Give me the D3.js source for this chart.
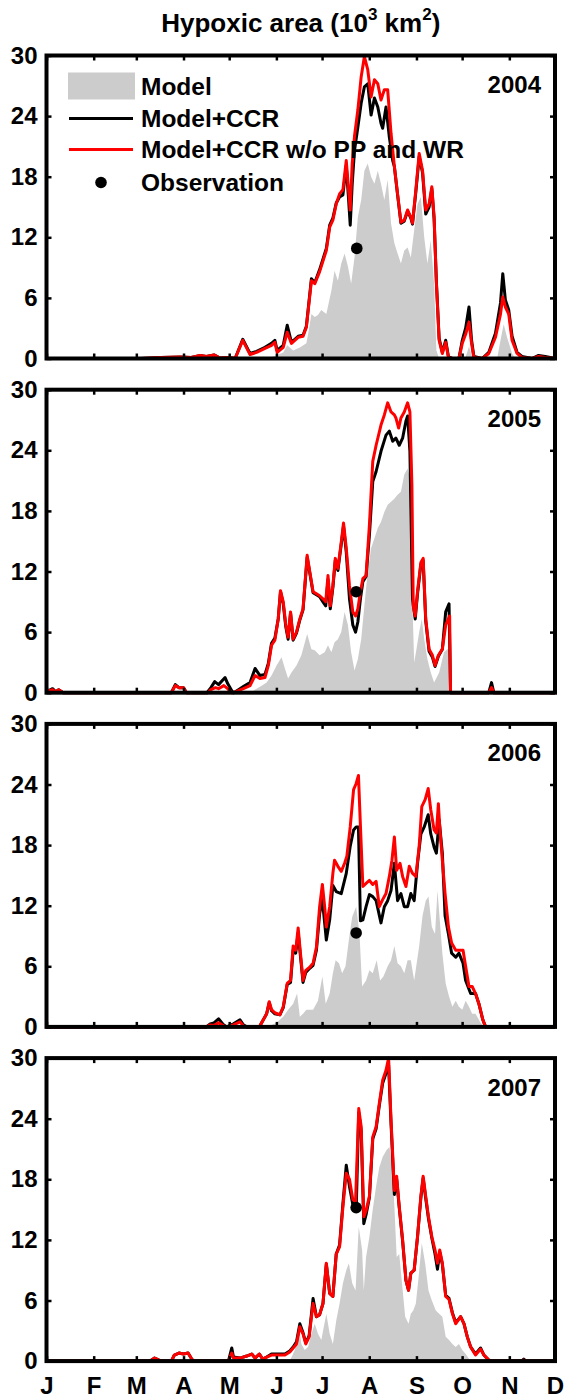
<!DOCTYPE html>
<html>
<head>
<meta charset="utf-8">
<script src="https://cdn.jsdelivr.net/npm/d3@7"></script>
<style>
  body { margin: 0; background: #fff; }
  text { font-family: "Liberation Sans", Arial, sans-serif; font-weight: bold; fill: #000; }
</style>
</head>
<body>
<div id="chart"></div>
<script>
// ---- data: [day of year, hypoxic area 10^3 km2] ----
var years = ["2004", "2005", "2006", "2007"];
var monthStarts = [0, 31, 59, 90, 120, 151, 181, 212, 243, 273, 304, 334];
var monthLabels = ["J", "F", "M", "A", "M", "J", "J", "A", "S", "O", "N", "D"];
var yTicks = [0, 6, 12, 18, 24, 30];
var legendLabels = ["Model", "Model+CCR", "Model+CCR w/o PP and WR", "Observation"];

var model2004 = [[145,0],[148.9,0.2],[155.5,0.6],[158.1,1.3],[162,0.8],[166.4,1.1],[170.7,1.5],[172.5,3.0],[174,4.4],[176.2,4.1],[178.3,4.3],[180.5,4.8],[183.8,4.4],[187.1,6.7],[189.2,8.7],[191.4,7.7],[193.6,9.4],[195.8,10.4],[198,9.1],[200.1,7.4],[202.3,10.0],[204.5,14.0],[206.7,15.7],[208.8,18.6],[211,19.3],[213.2,18.0],[215.4,17.3],[217.6,18.6],[219.7,17.3],[221.9,15.7],[224.1,17.7],[226.3,13.4],[228.5,11.4],[230.6,10.4],[232.8,9.4],[235,10.7],[237.2,11.0],[239.3,10.0],[241.5,12.7],[243.7,15.3],[245.9,16.0],[248.1,12.0],[250.2,9.4],[252.4,11.7],[254.6,7.4],[256.1,0.8],[257.9,0],[275,0],[277.5,1.2],[280,0],[296,0],[298.2,1.8],[300.3,3.4],[302.5,2.1],[305.8,0.5],[308,0]];
var ccr2004 = [[0,0],[62,0],[75,0.1],[88,0.15],[95,0.1],[101,0.3],[105,0.2],[110,0.35],[114,0.05],[120,0.1],[123.9,0],[128.9,1.9],[133.7,0.5],[138,0.7],[143.5,1.1],[147.8,1.5],[150,1.8],[151.5,0.8],[155.5,1.3],[158.1,3.3],[160.9,1.6],[165.3,2.2],[168.5,2.3],[170.7,3.2],[174,7.9],[176.2,7.5],[179.4,8.8],[183.8,10.9],[186,13.2],[188.1,13.9],[190.3,15.4],[192.5,16.0],[194.7,16.2],[196.9,19.1],[198.4,15.8],[199.5,13.2],[200.8,17.3],[202.3,20.6],[204.5,22.9],[206.7,25.3],[208.8,26.9],[211,27.2],[213.2,24.1],[215.4,25.8],[217.6,24.9],[219.7,23.3],[220.8,22.8],[223,24.9],[225.2,21.9],[227.4,19.6],[228.5,19.0],[230.6,16.2],[232.8,13.4],[235,13.6],[237.2,14.6],[239.3,13.9],[240.4,13.3],[242.6,16.5],[244.8,20.0],[247,18.4],[249.1,14.3],[251.3,15.0],[253.1,16.8],[254.6,13.8],[256.1,7.6],[257.9,2.0],[260,0.6],[262.2,1.8],[264,0.2],[266.6,0],[270.9,0],[273.1,1.8],[275.3,3.0],[277.5,5.1],[279.2,1.8],[280.7,0.2],[286.2,0],[290.5,0.6],[294.9,2.5],[298.2,5.5],[299.7,8.4],[301.4,5.8],[303.6,4.8],[305.8,2.2],[309.1,0.6],[312.3,0.2],[318.9,0],[323.2,0.3],[327.6,0.2],[334,0]];
var ccrNoPpWr2004 = [[0,0],[62,0],[75,0.1],[88,0.15],[95,0.1],[101,0.3],[105,0.2],[110,0.35],[114,0.05],[120,0.1],[123.9,0],[128.9,1.8],[133.7,0.4],[138,0.6],[143.5,1.0],[147.8,1.3],[150,1.6],[151.5,0.6],[155.5,1.1],[158.1,2.6],[160.9,1.5],[165.3,2.1],[168.5,2.2],[170.7,3.1],[174,7.7],[176.2,7.4],[179.4,8.6],[183.8,10.7],[186,13.0],[188.1,13.7],[190.3,15.3],[192.5,16.3],[194.7,16.7],[196.9,19.6],[198.4,16.7],[199.5,14.7],[200.8,19.3],[202.3,22.0],[204.5,24.6],[206.7,27.9],[208.8,29.9],[211,28.6],[213.2,25.9],[215.4,27.6],[217.6,27.2],[219.7,25.6],[221.9,26.6],[224.1,26.6],[226.3,22.3],[228.5,19.0],[230.6,16.3],[232.8,13.5],[235,13.7],[237.2,14.7],[239.3,14.0],[240.4,13.4],[242.6,16.7],[244.8,20.3],[247,18.6],[249.1,14.7],[251.3,15.3],[253.1,17.0],[254.6,14.0],[256.1,7.4],[257.9,1.8],[260,0.5],[262.2,1.6],[264,0.1],[266.6,0],[270.9,0],[273.1,1.5],[275.3,2.4],[277.5,3.6],[279.2,1.5],[280.7,0.1],[286.2,0],[290.5,0.5],[294.9,2.1],[298.2,4.4],[299.7,6.1],[301.4,5.1],[303.6,4.4],[305.8,1.8],[309.1,0.5],[312.3,0.1],[318.9,0],[323.2,0.2],[327.6,0.1],[334,0]];
var obs2004 = [[203.8, 10.9]];

var model2005 = [[133,0],[135.9,0.2],[141.3,0.7],[144.6,1.0],[147.8,1.7],[151.1,2.7],[154.4,3.5],[156.6,2.4],[158.7,1.4],[160.9,2.0],[164.2,2.7],[167.4,3.7],[171.2,5.8],[174,4.3],[176.2,4.2],[179.4,3.7],[182.7,4.0],[184.9,4.7],[187.1,4.0],[189.2,5.0],[191.4,5.3],[193.6,6.0],[195.8,8.0],[198,6.7],[200.1,4.0],[202.3,2.2],[204.5,3.3],[206.7,5.3],[208.8,8.6],[211,12.0],[213.2,14.3],[215.4,15.3],[217.6,16.3],[219.7,16.9],[221.9,17.9],[224.1,18.6],[226.3,18.9],[228.5,19.2],[230.6,19.6],[232.8,19.9],[235,21.6],[237.2,22.2],[238.7,21.2],[240,10.6],[241.5,3.0],[243,4.3],[244.8,6.0],[246.5,7.3],[248.1,5.3],[250.2,3.3],[252.4,2.0],[254.6,1.0],[257.9,2.0],[261.1,4.0],[263.3,4.3],[264.8,4.3],[265.2,0]];
var ccr2005 = [[0,0],[1.5,0.2],[4,0.4],[6,0.1],[8,0.3],[11,0],[82,0],[84.6,0.8],[87,0.5],[90,0.5],[92,0],[105.4,0],[108,0.5],[110.5,1.1],[113,0.8],[117.3,1.5],[119,0.9],[121.7,0.2],[123,0],[126.1,0.3],[129.3,0.6],[133.7,1.0],[137,2.4],[140.2,1.7],[143.5,1.8],[145.7,2.9],[147.8,4.9],[150,5.4],[152.2,7.3],[153.7,10.0],[155.5,8.8],[157.2,6.5],[158.7,5.3],[160.3,7.9],[162,5.2],[164.2,5.9],[166.4,7.2],[168.5,8.2],[171.2,13.4],[172.9,11.9],[175.1,9.9],[177.3,9.7],[179.4,9.5],[181.6,9.0],[183.4,8.6],[184.9,11.2],[186.4,8.3],[188.1,10.4],[189.7,13.1],[191.4,12.1],[193.6,14.7],[195.1,16.5],[196.9,13.9],[199,9.3],[201.2,6.7],[203,6.0],[204.5,7.0],[206.2,9.3],[207.8,11.0],[209.9,11.5],[212.1,15.6],[214.3,20.9],[216.5,21.9],[219.7,23.9],[223,25.5],[225.2,25.9],[227.4,24.9],[229.5,25.2],[231.7,24.5],[233.9,25.2],[236.1,26.9],[237.2,27.4],[238.7,23.9],[240.4,9.3],[242.2,7.3],[243.7,9.8],[245.9,12.7],[247.4,13.1],[249.1,7.1],[251.3,4.1],[253.5,3.5],[255.2,2.6],[257.4,3.6],[260,4.3],[262.2,8.0],[264.4,8.8],[265.4,0],[290.5,0],[292.3,1.0],[293.8,0],[334,0]];
var ccrNoPpWr2005 = [[0,0],[1.5,0.2],[4,0.3],[6,0.1],[8,0.3],[11,0],[82,0],[84.6,0.7],[87,0.5],[90,0.5],[92,0],[106,0],[108,0.3],[111,0.5],[113,0.4],[116.5,0.7],[119,0.4],[121.5,0],[123,0],[126.1,0.2],[129.3,0.4],[133.7,0.7],[137,1.7],[140.2,1.4],[143.5,1.5],[145.7,2.7],[147.8,4.7],[150,5.2],[152.2,7.3],[153.7,10.1],[155.5,9.0],[157.2,6.7],[158.7,5.5],[160.3,8.0],[162,5.3],[164.2,6.0],[166.4,7.3],[168.5,8.3],[171.2,13.6],[172.9,12.0],[175.1,10.0],[177.3,9.8],[179.4,9.6],[181.6,9.3],[183.4,9.0],[184.9,11.6],[186.4,8.6],[188.1,10.6],[189.7,13.3],[191.4,12.3],[193.6,14.9],[195.1,16.8],[196.9,14.3],[199,10.6],[201.2,8.0],[203,7.6],[204.5,8.3],[206.2,10.0],[207.8,11.3],[209.9,11.6],[212.1,16.6],[214.3,22.9],[216.5,24.5],[219.7,26.5],[221.9,27.5],[224.1,28.7],[226.3,27.8],[228.5,27.5],[229.5,27.2],[231.3,26.2],[232.8,27.2],[235,27.8],[237.2,28.7],[238.7,27.8],[240,20.6],[240.9,8.6],[242.2,7.6],[243.7,10.0],[245.9,12.9],[247.4,13.3],[249.1,7.3],[251.3,4.3],[253.5,3.7],[255.2,2.7],[257.4,3.7],[260,4.3],[262.2,6.7],[264.8,7.6],[265.4,0],[290.5,0],[292.3,0.5],[293.8,0],[334,0]];
var obs2005 = [[203.4, 10.0]];

var model2006 = [[144.6,0],[151.1,0.4],[155.5,1.0],[158.7,1.7],[162,2.3],[164.6,3.3],[166.4,1.0],[168.5,1.3],[170.7,1.7],[175.1,1.7],[178.3,2.6],[181.2,5.0],[183.4,2.3],[186,3.3],[188.1,5.3],[189.9,6.6],[192.1,6.3],[194.2,5.3],[196.4,6.0],[198.6,8.6],[200.8,10.9],[203.4,11.9],[205.6,9.2],[207.3,4.0],[209.9,4.6],[212.1,5.6],[214.3,5.3],[216.9,6.6],[219.1,4.6],[221.3,5.0],[224.1,6.0],[226.3,6.6],[228.5,8.0],[230.6,6.3],[232.8,6.0],[235,5.3],[237.2,6.6],[239.3,6.6],[241.5,4.6],[244.8,8.0],[247,11.0],[249.1,12.5],[250.9,12.9],[253.1,9.9],[255.2,9.2],[256.8,13.5],[258.3,10.6],[260,7.3],[262.2,4.3],[264.4,3.0],[266.6,2.0],[268.8,2.6],[270.9,2.0],[273.1,1.7],[275.3,2.6],[277.5,2.0],[279.6,1.3],[281.8,1.3],[285.1,0.4],[287.3,0]];
var ccr2006 = [[0,0],[105,0],[107.5,0.3],[110,0.4],[113,0.8],[116.3,0.2],[118.4,0],[122.8,0.3],[127.1,0.7],[129.3,0.2],[131.5,0],[139.8,0],[141.3,0.4],[144.6,1.3],[146.3,2.4],[147.8,1.6],[150,1.3],[153.3,1.2],[155.5,1.9],[158.1,4.2],[160.3,4.4],[162,7.6],[163.7,7.3],[165.3,9.3],[166.8,7.0],[168.5,4.4],[170.3,5.4],[172.9,5.8],[175.1,6.1],[177.3,7.6],[179.4,11.2],[181.2,12.6],[182.7,10.3],[183.8,8.6],[186,10.6],[188.1,14.0],[190.3,13.4],[193.6,13.2],[196.9,15.2],[199.5,17.9],[201.7,19.5],[203.4,19.8],[204.9,19.8],[206.2,10.5],[207.8,10.6],[209.9,11.9],[212.1,13.1],[214.3,12.9],[216.5,12.5],[219.7,10.3],[221.9,11.9],[224.1,12.5],[226.3,13.5],[228.5,16.2],[230.6,12.5],[232.8,13.2],[235,11.9],[237.2,11.9],[239.3,13.2],[241.5,12.5],[243.7,16.2],[245.9,19.1],[248.1,19.8],[250.7,21.0],[252.4,19.1],[254.6,17.8],[256.1,17.2],[257.9,20.5],[260,17.2],[261.8,11.0],[264,9.2],[266.1,7.3],[268.8,6.9],[270.9,7.3],[273.6,6.3],[275.3,4.6],[278.6,3.3],[281.8,3.3],[284,2.3],[286.6,0.7],[288.4,0],[334,0]];
var ccrNoPpWr2006 = [[0,0],[105,0],[107.5,0.2],[110,0.15],[113,0.4],[116.3,0.1],[118.4,0],[122.8,0.2],[127.1,0.5],[129.3,0.1],[131.5,0],[139.8,0],[141.3,0.4],[144.6,1.3],[146.3,2.5],[147.8,1.7],[150,1.4],[153.3,1.2],[155.5,2.0],[158.1,4.3],[160.3,4.6],[162,8.0],[163.7,7.6],[165.3,9.8],[166.8,7.3],[168.5,4.6],[170.3,5.6],[172.9,5.9],[175.1,6.3],[177.3,7.9],[179.4,11.9],[181.2,14.1],[182.7,11.9],[183.8,9.9],[186,11.9],[188.1,15.2],[189.2,16.5],[191.4,15.9],[193.6,15.4],[195.8,16.2],[197.3,16.9],[199.5,19.8],[201.7,23.5],[203.4,24.1],[204.9,24.9],[206.2,19.9],[207.8,13.9],[209.9,14.2],[212.1,14.5],[214.3,14.1],[216.5,14.4],[218.6,11.9],[220.8,12.6],[223,13.2],[225.2,14.9],[226.9,16.5],[228.5,18.8],[230,15.5],[232.2,16.2],[233.9,14.9],[236.1,13.9],[238.3,15.9],[240.4,15.2],[242.6,14.9],[244.8,17.9],[246.5,21.8],[248.7,22.5],[250.7,23.6],[252.4,21.5],[254.6,19.5],[256.1,19.2],[257.4,22.1],[258.3,19.8],[260,16.5],[261.8,13.2],[264,9.9],[266.1,8.3],[268.8,7.6],[270.9,7.6],[273.6,7.6],[275.3,6.0],[277.5,4.0],[279.6,4.0],[281.8,3.3],[284,2.3],[286.6,0.7],[288.4,0],[334,0]];
var obs2006 = [[203.4, 9.3]];

var model2007 = [[159.8,0],[163.1,1.1],[165.9,3.4],[167.4,1.7],[169.6,1.1],[171.8,1.4],[174,2.7],[176.2,3.7],[178.3,2.7],[180.5,2.1],[183.8,4.7],[186,2.7],[188.1,1.7],[190.3,4.0],[192.5,5.7],[194.7,7.7],[196.9,9.0],[198.6,9.7],[200.8,7.7],[203,7.0],[205.1,13.3],[207.3,11.0],[208.4,7.0],[209.9,10.3],[212.1,12.3],[214.3,15.0],[216.5,17.3],[218.6,19.2],[220.8,20.2],[223.4,20.9],[225.2,21.2],[226.9,19.9],[228.5,15.3],[230,10.3],[231.7,10.6],[233.5,7.7],[235.6,4.4],[237.8,3.7],[239.3,4.7],[240.9,5.0],[242.6,5.7],[244.4,8.3],[246.5,11.7],[248.7,9.7],[250.9,7.0],[253.1,6.0],[255.7,5.0],[257.9,4.7],[260,4.4],[262.2,2.4],[264.4,2.1],[266.6,1.7],[268.8,1.4],[270.9,1.7],[273.1,1.1],[275.3,0.7],[278.6,0]];
var ccr2007 = [[0,0],[68,0],[71,0.3],[74,0.1],[76,0],[82,0],[84,0.6],[87,0.8],[90,0.7],[93,0.8],[95,0.3],[96.5,0],[119.5,0],[121.7,1.3],[122.8,0.4],[127.1,0.3],[131.5,0.5],[134.8,0.7],[137,0.3],[139.8,0.7],[142,0.2],[144.6,0.4],[147.8,0.7],[151.1,0.7],[156.6,0.7],[159.8,1.0],[162,1.4],[164.2,1.9],[166.4,3.7],[168.5,2.8],[170.3,1.8],[172.5,2.5],[175.1,6.2],[177.3,4.4],[179.4,4.6],[181.6,5.7],[183.8,9.6],[186,6.7],[188.1,6.4],[190.3,10.6],[192.5,11.5],[194.7,15.6],[196.9,19.4],[199,17.3],[201.2,15.5],[203.4,14.9],[205.1,24.6],[206.7,22.8],[208.4,13.6],[209.9,14.5],[212.1,16.2],[214.3,22.0],[216.5,23.0],[218.6,25.3],[220.8,27.5],[223,28.5],[224.7,29.3],[226.3,23.5],[228.5,16.5],[230,18.0],[231.7,15.2],[233.9,11.9],[236.1,8.0],[237.8,7.0],[239.3,8.7],[241.5,9.0],[243.7,12.3],[245.9,16.2],[247.4,18.1],[249.1,16.1],[250.9,14.1],[253.1,12.2],[255.2,10.6],[256.8,9.1],[258.3,10.8],[260,9.6],[262.2,6.5],[264.4,6.2],[266.6,4.8],[268.8,3.8],[272,4.4],[274.2,3.7],[276.4,2.4],[278.6,1.4],[281.8,0.7],[285.1,1.3],[287.3,0.6],[290.5,0.1],[292,0],[312,0],[313.5,0.2],[315,0],[334,0]];
var ccrNoPpWr2007 = [[0,0],[68,0],[71,0.3],[74,0.1],[76,0],[82,0],[84,0.6],[87,0.8],[90,0.7],[93,0.8],[95,0.3],[96.5,0],[119.5,0],[121.7,0.8],[122.8,0.3],[127.1,0.3],[131.5,0.5],[134.8,0.7],[137,0.3],[139.8,0.7],[142,0.2],[144.6,0.4],[147.8,0.6],[151.1,0.6],[156.6,0.6],[159.8,0.9],[162,1.3],[164.2,1.7],[166.4,3.4],[168.5,2.7],[170.3,1.7],[172.5,2.4],[175.1,5.7],[177.3,4.4],[179.4,4.6],[181.6,5.7],[183.8,9.7],[186,6.7],[188.1,6.4],[190.3,10.6],[192.5,11.3],[194.7,15.3],[196.9,18.6],[199,18.0],[201.2,16.0],[203,15.8],[205.1,25.0],[206.7,23.2],[208.4,14.3],[209.9,14.9],[212.1,16.3],[214.3,22.2],[216.5,23.2],[218.6,25.5],[220.8,27.8],[223,28.8],[224.7,30.0],[226.3,23.9],[228.5,16.9],[230,18.3],[231.7,15.3],[233.9,12.0],[236.1,8.0],[237.8,7.0],[239.3,8.7],[241.5,9.0],[243.7,12.3],[245.9,16.3],[247.4,18.3],[249.1,16.3],[250.9,14.3],[253.1,12.3],[255.2,11.0],[256.8,9.7],[258.3,11.0],[260,9.7],[262.2,6.4],[264.4,6.1],[266.6,4.7],[268.8,3.7],[272,4.4],[274.2,3.7],[276.4,2.4],[278.6,1.4],[281.8,0.6],[285.1,1.2],[287.3,0.6],[290.5,0.1],[292,0],[312,0],[313.5,0.1],[315,0],[334,0]];
var obs2007 = [[203.4, 15.2]];

var modelSeries = [model2004, model2005, model2006, model2007];
var ccrSeries = [ccr2004, ccr2005, ccr2006, ccr2007];
var ccrNoPpWrSeries = [ccrNoPpWr2004, ccrNoPpWr2005, ccrNoPpWr2006, ccrNoPpWr2007];
var obsSeries = [obs2004, obs2005, obs2006, obs2007];

// ---- layout ----
var margin = {top: 55.5, left: 46.5, right: 10};
var totalWidth = 565, totalHeight = 1399;
var panelHeight = 303, panelStep = 334.2;
var grey = "#cccccc";

var svg = d3.select("#chart").append("svg")
    .attr("width", totalWidth)
    .attr("height", totalHeight);

var x = d3.scaleLinear().domain([0, 334]).range([margin.left, totalWidth - margin.right]);
var y = d3.scaleLinear().domain([0, 30]).range([panelHeight, 0]);

var area = d3.area()
    .x(function(d) { return x(d[0]); })
    .y0(y(0))
    .y1(function(d) { return y(d[1]); });

var line = d3.line()
    .x(function(d) { return x(d[0]); })
    .y(function(d) { return y(d[1]); });

// title
var title = svg.append("text")
    .attr("x", (x.range()[0] + x.range()[1]) / 2)
    .attr("y", 32)
    .attr("text-anchor", "middle")
    .style("font-size", "26px");
title.append("tspan").text("Hypoxic area (10");
title.append("tspan").attr("dy", -12).style("font-size", "17px").text("3");
title.append("tspan").attr("dy", 12).text(" km");
title.append("tspan").attr("dy", -12).style("font-size", "17px").text("2");
title.append("tspan").attr("dy", 12).text(")");

years.forEach(function(yr, i) {
    var g = svg.append("g")
        .attr("transform", "translate(0," + (margin.top + i * panelStep) + ")");

    g.append("path")
        .datum(modelSeries[i])
        .attr("d", area)
        .attr("fill", grey);

    g.append("path")
        .datum(ccrSeries[i])
        .attr("d", line)
        .attr("fill", "none")
        .attr("stroke", "#000")
        .attr("stroke-width", 3)
        .attr("stroke-linejoin", "round");

    g.append("path")
        .datum(ccrNoPpWrSeries[i])
        .attr("d", line)
        .attr("fill", "none")
        .attr("stroke", "#ff0000")
        .attr("stroke-width", 3)
        .attr("stroke-linejoin", "round");

    g.selectAll(".obs")
        .data(obsSeries[i])
        .enter()
        .append("circle")
        .attr("class", "obs")
        .attr("cx", function(d) { return x(d[0]); })
        .attr("cy", function(d) { return y(d[1]); })
        .attr("r", 5.8)
        .attr("fill", "#000");

    // axes: ticks pointing inwards on all four sides
    var left = g.append("g")
        .attr("transform", "translate(" + x.range()[0] + ",0)")
        .call(d3.axisLeft(y).tickValues(yTicks).tickSize(-5).tickPadding(9));
    g.append("g")
        .attr("transform", "translate(" + x.range()[1] + ",0)")
        .call(d3.axisRight(y).tickValues(yTicks).tickSize(-5).tickFormat(""));
    g.append("g")
        .call(d3.axisTop(x).tickValues(monthStarts).tickSize(-5).tickFormat(""));
    var bottom = g.append("g")
        .attr("transform", "translate(0," + panelHeight + ")")
        .call(d3.axisBottom(x).tickValues(monthStarts).tickSize(-5).tickPadding(16)
            .tickFormat(function(d, k) { return i === years.length - 1 ? monthLabels[k] : ""; }));

    g.selectAll(".domain").remove();
    g.selectAll(".tick line").attr("stroke", "#000").attr("stroke-width", 2.5);
    left.selectAll("text").style("font-size", "24px").attr("font-family", null);
    bottom.selectAll("text").style("font-size", "24px").attr("font-family", null);

    g.append("rect")
        .attr("x", x.range()[0])
        .attr("y", 0)
        .attr("width", x.range()[1] - x.range()[0])
        .attr("height", panelHeight)
        .attr("fill", "none")
        .attr("stroke", "#000")
        .attr("stroke-width", 4);

    g.append("text")
        .attr("x", 541)
        .attr("y", 37.5)
        .attr("text-anchor", "end")
        .style("font-size", "24px")
        .text(yr);

    if (i === 0) {
        var lg = g.append("g").attr("class", "legend");
        var rowY = [30.5, 63, 94, 127];
        lg.append("rect")
            .attr("x", 68).attr("y", rowY[0] - 13.5)
            .attr("width", 67).attr("height", 27)
            .attr("fill", grey);
        lg.append("line")
            .attr("x1", 69).attr("x2", 133)
            .attr("y1", rowY[1]).attr("y2", rowY[1])
            .attr("stroke", "#000").attr("stroke-width", 3);
        lg.append("line")
            .attr("x1", 69).attr("x2", 133)
            .attr("y1", rowY[2]).attr("y2", rowY[2])
            .attr("stroke", "#ff0000").attr("stroke-width", 3);
        lg.append("circle")
            .attr("cx", 101).attr("cy", rowY[3])
            .attr("r", 5.8).attr("fill", "#000");
        lg.selectAll(".legend-label")
            .data(legendLabels)
            .enter()
            .append("text")
            .attr("class", "legend-label")
            .attr("x", 141)
            .attr("y", function(d, k) { return rowY[k]; })
            .attr("dy", "0.36em")
            .style("font-size", "24.5px")
            .text(function(d) { return d; });
    }
});
</script>
</body>
</html>
